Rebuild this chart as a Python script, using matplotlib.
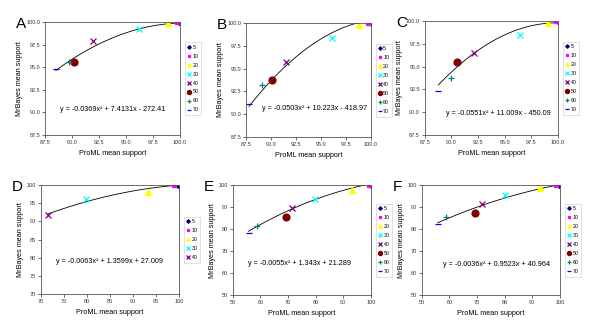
import numpy as np
import matplotlib
matplotlib.use("Agg")
import matplotlib.pyplot as plt

plt.rcParams["font.family"] = ["Liberation Sans", "DejaVu Sans"]

# series labels (Excel defaults for colours/markers)
labels = ["5", "10", "20", "30", "40", "50", "60", "70"]
colors = ["#000080", "#FF00FF", "#FFFF00", "#00FFFF", "#800080", "#800000", "#008080", "#0000FF"]
markers = ["D", "s", "^", "x", "x", "o", "+", "_"]
msizes = [3, 3.5, 4, 5, 5, 5, 5, 5]

# ProML (x) and MrBayes (y) mean support, one value per series
xA = [99.9, 99.7, 98.85, 96.2, 91.9, 90.2, 89.75, 88.5]
yA = [100.0, 100.0, 99.85, 99.2, 97.9, 95.6, 95.6, 94.8]
xB = [99.97, 99.73, 98.84, 96.15, 91.5, 90.15, 89.15, 87.8]
yB = [100.0, 100.0, 99.78, 98.35, 95.75, 93.75, 93.25, 91.1]
xC = [99.98, 99.84, 99.07, 96.43, 92.15, 90.48, 89.98, 88.77]
yC = [100.0, 100.0, 99.74, 98.53, 96.5, 95.48, 93.75, 92.28]
xD = [99.9, 98.9, 93.2, 79.8, 71.5]
yD = [100.0, 99.9, 98.0, 96.3, 91.8]
xE = [99.9, 99.3, 93.2, 79.9, 71.4, 69.1, 58.8, 55.7]
yE = [100.0, 100.0, 97.9, 93.9, 89.7, 85.6, 81.2, 78.3]
xF = [99.8, 98.8, 92.8, 80.1, 71.7, 69.4, 58.9, 55.8]
yF = [100.0, 100.0, 98.5, 95.3, 91.5, 87.2, 85.5, 82.2]

# trendline coefficients as printed on the chart
cA = [-0.0369, 7.4131, -272.41]
cB = [-0.0503, 10.223, -418.97]
cC = [-0.0551, 11.009, -450.09]
cD = [-0.0063, 1.3599, 27.009]
cE = [-0.0055, 1.343, 21.289]
cF = [-0.0036, 0.9523, 40.964]
eqA = "y = -0.0369x² + 7.4131x - 272.41"
eqB = "y = -0.0503x² + 10.223x - 418.97"
eqC = "y = -0.0551x² + 11.009x - 450.09"
eqD = "y = -0.0063x² + 1.3599x + 27.009"
eqE = "y = -0.0055x² + 1.343x + 21.289"
eqF = "y = -0.0036x² + 0.9523x + 40.964"

fig = plt.figure(figsize=(6, 3.3), dpi=100)

panels = [
    ("A", [0.075, 0.591, 0.225, 0.342], xA, yA, cA, eqA, (87.5, 100), np.arange(87.5, 100.1, 2.5), "%.1f", (0.50, 0.23)),
    ("B", [0.41, 0.585, 0.208, 0.345], xB, yB, cB, eqB, (87.5, 100), np.arange(87.5, 100.1, 2.5), "%.1f", (0.55, 0.25)),
    ("C", [0.708, 0.591, 0.222, 0.345], xC, yC, cC, eqC, (87.5, 100), np.arange(87.5, 100.1, 2.5), "%.1f", (0.55, 0.19)),
    ("D", [0.068, 0.109, 0.23, 0.33], xD, yD, cD, eqD, (70, 100), np.arange(70, 101, 5), "%d", (0.50, 0.30)),
    ("E", [0.388, 0.106, 0.23, 0.333], xE, yE, cE, eqE, (50, 100), np.arange(50, 101, 10), "%d", (0.48, 0.29)),
    ("F", [0.703, 0.106, 0.23, 0.333], xF, yF, cF, eqF, (50, 100), np.arange(50, 101, 10), "%d", (0.54, 0.28)),
]

for name, pos, xs, ys, coef, eq, lim, ticks, fmt, eqpos in panels:
    ax = fig.add_axes(pos)
    xx = np.linspace(min(xs), max(xs), 100)
    ax.plot(xx, np.polyval(coef, xx), color="black", lw=0.6, zorder=1)
    for i in range(len(xs)):
        ax.plot(xs[i], ys[i], linestyle="none", marker=markers[i], color=colors[i],
                ms=msizes[i], mew=0.9, label=labels[i], zorder=2)
    ax.set_xlim(lim)
    ax.set_ylim(lim)
    ax.set_xticks(ticks)
    ax.set_yticks(ticks)
    ax.set_xticklabels([fmt % t for t in ticks])
    ax.set_yticklabels([fmt % t for t in ticks])
    ax.tick_params(labelsize=4, length=2, width=0.5, pad=1.5, colors="#333333")
    for s in ax.spines.values():
        s.set_linewidth(0.6)
        s.set_color("#555555")
    ax.set_xlabel("ProML mean support", fontsize=5.2, labelpad=4)
    ax.set_ylabel("MrBayes mean support", fontsize=5.2, labelpad=2)
    ax.text(eqpos[0], eqpos[1], eq, transform=ax.transAxes, ha="center", va="center", fontsize=5.2)
    leg = ax.legend(loc="center left", bbox_to_anchor=(1.04, 0.5), fontsize=3.8, frameon=True,
                    fancybox=False, handlelength=0.5, handletextpad=0.4, labelspacing=0.75,
                    borderpad=0.5, markerscale=0.6, borderaxespad=0)
    leg.get_frame().set_linewidth(0.4)
    leg.get_frame().set_edgecolor("#bbbbbb")
    fig.text(pos[0] - 0.048, pos[1] + pos[3] - 0.005, name, fontsize=11, ha="left", va="center")

fig.savefig("out.png", dpi=100)
